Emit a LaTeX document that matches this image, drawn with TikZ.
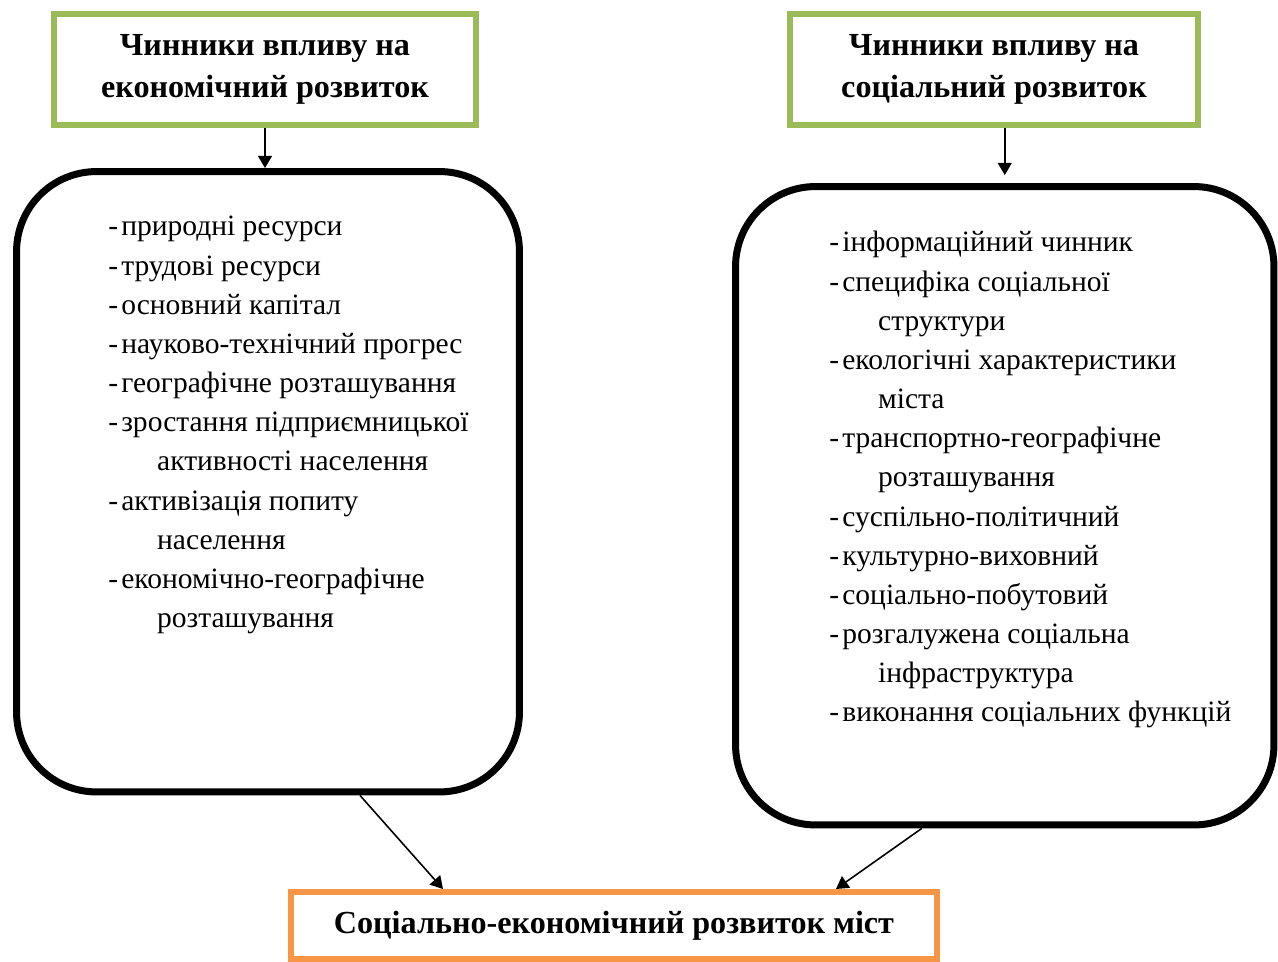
\documentclass[tikz,border=0pt]{standalone}
\usepackage{fontspec}
\setmainfont{Liberation Serif}
\usetikzlibrary{arrows.meta,calc}
\definecolor{headgreen}{RGB}{155,187,89}
\definecolor{resorange}{RGB}{247,150,70}
\newcommand{\dashitem}{\makebox[7.4pt][l]{-}}
\newcommand{\wrapline}{\hspace*{27.8pt}}

\begin{document}
\begin{tikzpicture}[x=0.02cm,y=-0.02cm,
    headbox/.style={draw=headgreen,line width=0.12cm,align=center,font=\fontsize{18.3}{23.8}\selectfont\bfseries},
    factorbox/.style={draw=black,line width=0.14cm,rounded corners=1.6cm},
    factorlist/.style={align=left,anchor=north west,inner sep=0pt,font=\fontsize{16.8}{22.3}\selectfont},
    link/.style={-{Triangle[length=7pt,width=8pt]},line width=0.9pt}]
    \useasboundingbox (0,0) rectangle (1278,962);

    \node[headbox,minimum width=8.44cm,minimum height=2.22cm] (ecohead) at (265,69.5) {Чинники впливу на\\економічний розвиток};
    \node[headbox,minimum width=8.16cm,minimum height=2.22cm] (sochead) at (994,69.5) {Чинники впливу на\\соціальний розвиток};

    \node[factorbox,minimum width=10.06cm,minimum height=12.41cm] (ecobox) at (268,481.75) {};
    \node[factorbox,minimum width=10.77cm,minimum height=12.77cm] (socbox) at (1004.75,505.75) {};

    \node[factorlist] (ecolist) at (108,216) {\dashitem природні ресурси\\
        \dashitem трудові ресурси\\
        \dashitem основний капітал\\
        \dashitem науково-технічний прогрес\\
        \dashitem географічне розташування\\
        \dashitem зростання підприємницької\\
        \wrapline активності населення\\
        \dashitem активізація попиту\\
        \wrapline населення\\
        \dashitem економічно-географічне\\
        \wrapline розташування};
    \node[factorlist] (soclist) at (829,231) {\dashitem інформаційний чинник\\
        \dashitem специфіка соціальної\\
        \wrapline структури\\
        \dashitem екологічні характеристики\\
        \wrapline міста\\
        \dashitem транспортно-географічне\\
        \wrapline розташування\\
        \dashitem суспільно-політичний\\
        \dashitem культурно-виховний\\
        \dashitem соціально-побутовий\\
        \dashitem розгалужена соціальна\\
        \wrapline інфраструктура\\
        \dashitem виконання соціальних функцій};

    \node[draw=resorange,line width=0.12cm,minimum width=12.92cm,minimum height=1.34cm,font=\fontsize{18.3}{23.8}\selectfont\bfseries] (result) at (614,925.5) {Соціально-економічний розвиток міст};

    \draw[link] (ecohead.south) -- (ecohead.south |- ecobox.north);
    \draw[link] (sochead.south -| socbox.north) -- ($(socbox.north)+(0,-8)$);
    \draw[link] ($(ecobox.south)+(92,0)$) -- ($(result.north)+(-171,0)$);
    \draw[link] ($(socbox.south)+(-83,0)$) -- ($(result.north)+(222,0)$);
\end{tikzpicture}
\end{document}
